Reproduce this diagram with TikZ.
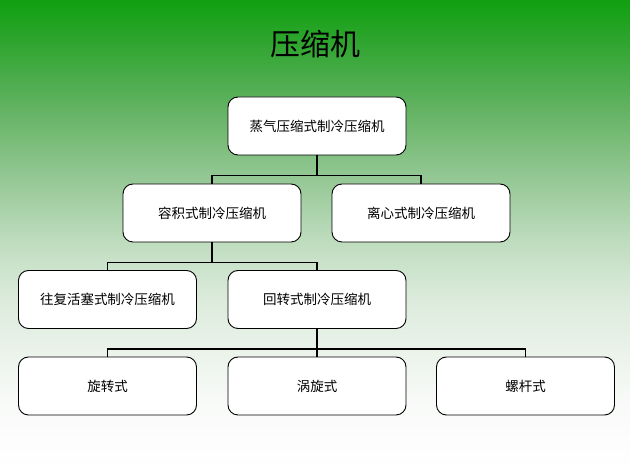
\documentclass[tikz,border=0pt]{standalone}
\usepackage{fontspec}
\setmainfont{Noto Sans CJK SC}
\usetikzlibrary{calc,positioning}

\definecolor{bgA}{RGB}{16,160,16}
\definecolor{bgB}{RGB}{45,165,45}
\definecolor{bgC}{RGB}{92,176,92}
\definecolor{bgD}{RGB}{150,200,150}
\definecolor{bgE}{RGB}{190,220,190}
\definecolor{bgF}{RGB}{220,235,220}
\definecolor{bgG}{RGB}{248,250,248}

\pgfdeclareverticalshading{bgfade}{100bp}{color(0bp)=(white); color(25bp)=(white);
  color(32.5bp)=(bgG); color(43.2bp)=(bgF); color(49.5bp)=(bgE);
  color(55.9bp)=(bgD); color(64.4bp)=(bgC); color(70.8bp)=(bgB);
  color(75bp)=(bgA); color(100bp)=(bgA)}

\tikzset{
  box/.style={draw, line width=0.9pt, rounded corners=10pt, fill=white,
    minimum width=178pt, minimum height=58pt, inner sep=0pt,
    font=\fontsize{13.5}{16}\selectfont},
  conn/.style={line width=1.8pt}
}

\begin{document}
\begin{tikzpicture}[x=1pt,y=1pt]
        \useasboundingbox (0,0) rectangle (630,471);
        \shade[shading=bgfade] (0,0) rectangle (630,471);

        \node[font=\fontsize{30}{34}\selectfont] (title) at (315,427) {压缩机};

        % root
        \node[box] (zq) at (317,345) {蒸气压缩式制冷压缩机};
        % second row
        \node[box] (rj) at (212,258) {容积式制冷压缩机};
        \node[box] (lx) at (421,258) {离心式制冷压缩机};
        % third row
        \node[box] (wf) at (107.5,171.5) {往复活塞式制冷压缩机};
        \node[box] (hz) at (317,171.5) {回转式制冷压缩机};
        % bottom row
        \node[box] (xz) at (107.5,85) {旋转式};
        \node[box] (wx) at (317,85) {涡旋式};
        \node[box] (lg) at (525.5,85) {螺杆式};

        \draw[conn] (zq.south) -- ++(0,-20) -| (rj.north);
        \draw[conn] (zq.south) -- ++(0,-20) -| (lx.north);

        \draw[conn] (rj.south) -- ++(0,-20) -| (wf.north);
        \draw[conn] (rj.south) -- ++(0,-20) -| (hz.north);

        \draw[conn] (hz.south) -- ++(0,-20) -| (xz.north);
        \draw[conn] (hz.south) -- ++(0,-20) -| (wx.north);
        \draw[conn] (hz.south) -- ++(0,-20) -| (lg.north);
    \end{tikzpicture}
\end{document}
